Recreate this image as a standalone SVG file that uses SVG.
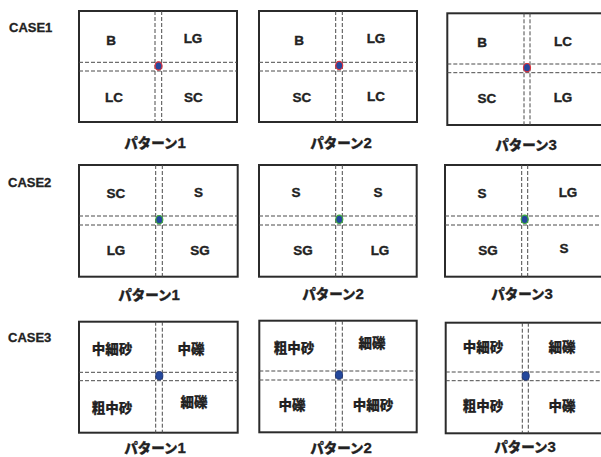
<svg xmlns="http://www.w3.org/2000/svg" width="601" height="457" viewBox="0 0 601 457">
<style>
.bg{fill:#ffffff}
.box{fill:#ffffff;stroke:#2b2b2b;stroke-width:2}
.dash{stroke:#4a4a4a;stroke-width:1;stroke-dasharray:4 2;fill:none}
.lat{font-family:"Liberation Sans",Arial,sans-serif;font-weight:bold;font-size:13.5px;fill:#222;stroke:#222;stroke-width:0.35;text-anchor:middle}
.cjk{font-family:"Liberation Sans","Noto Sans CJK JP",sans-serif;font-weight:900;font-size:13.5px;fill:#222;stroke:#222;stroke-width:0.2;text-anchor:middle}
.cap{font-family:"Liberation Sans","Noto Sans CJK JP",sans-serif;font-weight:900;font-size:13.5px;fill:#222;stroke:#222;stroke-width:0.3;text-anchor:middle}
.num{font-size:15px}
.case{font-family:"Liberation Sans",Arial,sans-serif;font-weight:bold;font-size:13px;fill:#222;stroke:#222;stroke-width:0.3}
.d1{fill:#24489c;stroke:#e0303a;stroke-width:1.2}
.d2{fill:#24489c;stroke:#3fae3a;stroke-width:1.2}
.d3{fill:#24489c;stroke:#1a2f6e;stroke-width:0.8}
</style>
<rect class="bg" x="0" y="0" width="601" height="457"/>

<g id="case-labels">
<text class="case" x="9" y="31.5">CASE1</text>
<text class="case" x="8" y="186.5">CASE2</text>
<text class="case" x="8" y="341.5">CASE3</text>
</g>

<!-- Row 1 -->
<g id="c1p1">
<rect class="box" x="79" y="11" width="158" height="111"/>
<line class="dash" x1="155" y1="11" x2="155" y2="122"/>
<line class="dash" x1="161.7" y1="11" x2="161.7" y2="122"/>
<line class="dash" x1="79" y1="62.3" x2="237" y2="62.3"/>
<line class="dash" x1="79" y1="71" x2="237" y2="71"/>
<ellipse class="d1" cx="158.5" cy="66" rx="3.5" ry="4.2"/>
<text class="lat" x="111" y="44.5">B</text>
<text class="lat" x="193" y="43">LG</text>
<text class="lat" x="114" y="101.5">LC</text>
<text class="lat" x="193.5" y="101.5">SC</text>
<text class="cap" x="155" y="147.5">パターン<tspan class="num">1</tspan></text>
</g>
<g id="c1p2">
<rect class="box" x="259" y="11" width="158" height="111"/>
<line class="dash" x1="335.7" y1="11" x2="335.7" y2="122"/>
<line class="dash" x1="342.3" y1="11" x2="342.3" y2="122"/>
<line class="dash" x1="259" y1="62.3" x2="417" y2="62.3"/>
<line class="dash" x1="259" y1="71" x2="417" y2="71"/>
<ellipse class="d1" cx="339.2" cy="65.5" rx="3.5" ry="4.2"/>
<text class="lat" x="299" y="44.5">B</text>
<text class="lat" x="376" y="43">LG</text>
<text class="lat" x="302" y="101.5">SC</text>
<text class="lat" x="376" y="100.5">LC</text>
<text class="cap" x="341" y="147.5">パターン<tspan class="num">2</tspan></text>
</g>
<g id="c1p3">
<rect class="box" x="447.3" y="13.3" width="162" height="111.7"/>
<line class="dash" x1="524" y1="13.3" x2="524" y2="125"/>
<line class="dash" x1="530" y1="13.3" x2="530" y2="125"/>
<line class="dash" x1="447.3" y1="64" x2="610" y2="64"/>
<line class="dash" x1="447.3" y1="72.7" x2="610" y2="72.7"/>
<ellipse class="d1" cx="527" cy="67.7" rx="3.5" ry="4.2"/>
<text class="lat" x="482" y="46.5">B</text>
<text class="lat" x="563" y="45.5">LC</text>
<text class="lat" x="487" y="102.5">SC</text>
<text class="lat" x="563" y="101.5">LG</text>
<text class="cap" x="526" y="149.5">パターン<tspan class="num">3</tspan></text>
</g>

<!-- Row 2 -->
<g id="c2p1">
<rect class="box" x="79" y="165" width="158.7" height="111.7"/>
<line class="dash" x1="155.7" y1="165" x2="155.7" y2="276.7"/>
<line class="dash" x1="162.3" y1="165" x2="162.3" y2="276.7"/>
<line class="dash" x1="79" y1="216" x2="237.7" y2="216"/>
<line class="dash" x1="79" y1="225" x2="237.7" y2="225"/>
<ellipse class="d2" cx="159.3" cy="219.7" rx="3.5" ry="4.2"/>
<text class="lat" x="116" y="197.5">SC</text>
<text class="lat" x="198.5" y="197">S</text>
<text class="lat" x="116" y="254.5">LG</text>
<text class="lat" x="200" y="254.5">SG</text>
<text class="cap" x="149" y="299.5">パターン<tspan class="num">1</tspan></text>
</g>
<g id="c2p2">
<rect class="box" x="259" y="165" width="157.7" height="111.7"/>
<line class="dash" x1="335.7" y1="165" x2="335.7" y2="276.7"/>
<line class="dash" x1="342.3" y1="165" x2="342.3" y2="276.7"/>
<line class="dash" x1="259" y1="216" x2="416.7" y2="216"/>
<line class="dash" x1="259" y1="225" x2="416.7" y2="225"/>
<ellipse class="d2" cx="339.3" cy="219.3" rx="3.5" ry="4.2"/>
<text class="lat" x="296" y="197">S</text>
<text class="lat" x="378" y="196.5">S</text>
<text class="lat" x="303" y="254.5">SG</text>
<text class="lat" x="380" y="254.5">LG</text>
<text class="cap" x="333" y="298.5">パターン<tspan class="num">2</tspan></text>
</g>
<g id="c2p3">
<rect class="box" x="445" y="165" width="165" height="111.7"/>
<line class="dash" x1="521.7" y1="165" x2="521.7" y2="276.7"/>
<line class="dash" x1="527.7" y1="165" x2="527.7" y2="276.7"/>
<line class="dash" x1="445" y1="216" x2="610" y2="216"/>
<line class="dash" x1="445" y1="225" x2="610" y2="225"/>
<ellipse class="d2" cx="524.7" cy="219.3" rx="3.5" ry="4.2"/>
<text class="lat" x="482" y="197.5">S</text>
<text class="lat" x="568" y="196.5">LG</text>
<text class="lat" x="488" y="254.5">SG</text>
<text class="lat" x="564" y="252.5">S</text>
<text class="cap" x="522" y="298.5">パターン<tspan class="num">3</tspan></text>
</g>

<!-- Row 3 -->
<g id="c3p1">
<rect class="box" x="79" y="321.7" width="158.7" height="111"/>
<line class="dash" x1="155.7" y1="321.7" x2="155.7" y2="432.7"/>
<line class="dash" x1="162.3" y1="321.7" x2="162.3" y2="432.7"/>
<line class="dash" x1="79" y1="372.3" x2="237.7" y2="372.3"/>
<line class="dash" x1="79" y1="380.7" x2="237.7" y2="380.7"/>
<ellipse class="d3" cx="159.3" cy="375.7" rx="3.6" ry="4.2"/>
<text class="cjk" x="112" y="354">中細砂</text>
<text class="cjk" x="191" y="354">中礫</text>
<text class="cjk" x="112" y="413">粗中砂</text>
<text class="cjk" x="194" y="407">細礫</text>
<text class="cap" x="155" y="452.5">パターン<tspan class="num">1</tspan></text>
</g>
<g id="c3p2">
<rect class="box" x="259.3" y="320.7" width="157.4" height="111.6"/>
<line class="dash" x1="335.7" y1="320.7" x2="335.7" y2="432.3"/>
<line class="dash" x1="342.3" y1="320.7" x2="342.3" y2="432.3"/>
<line class="dash" x1="259.3" y1="371" x2="416.7" y2="371"/>
<line class="dash" x1="259.3" y1="380" x2="416.7" y2="380"/>
<ellipse class="d3" cx="339" cy="375" rx="3.6" ry="4.2"/>
<text class="cjk" x="294" y="353">粗中砂</text>
<text class="cjk" x="372" y="347.5">細礫</text>
<text class="cjk" x="292" y="410">中礫</text>
<text class="cjk" x="373" y="410">中細砂</text>
<text class="cap" x="341" y="452.5">パターン<tspan class="num">2</tspan></text>
</g>
<g id="c3p3">
<rect class="box" x="445.7" y="322.7" width="165" height="110.6"/>
<line class="dash" x1="522.3" y1="322.7" x2="522.3" y2="433.3"/>
<line class="dash" x1="528.3" y1="322.7" x2="528.3" y2="433.3"/>
<line class="dash" x1="445.7" y1="372" x2="610" y2="372"/>
<line class="dash" x1="445.7" y1="380.7" x2="610" y2="380.7"/>
<ellipse class="d3" cx="525.7" cy="376" rx="3.6" ry="4.2"/>
<text class="cjk" x="483" y="351.5">中細砂</text>
<text class="cjk" x="562" y="351.5">細礫</text>
<text class="cjk" x="483" y="411">粗中砂</text>
<text class="cjk" x="562" y="411">中礫</text>
<text class="cap" x="525" y="451.5">パターン<tspan class="num">3</tspan></text>
</g>
</svg>
